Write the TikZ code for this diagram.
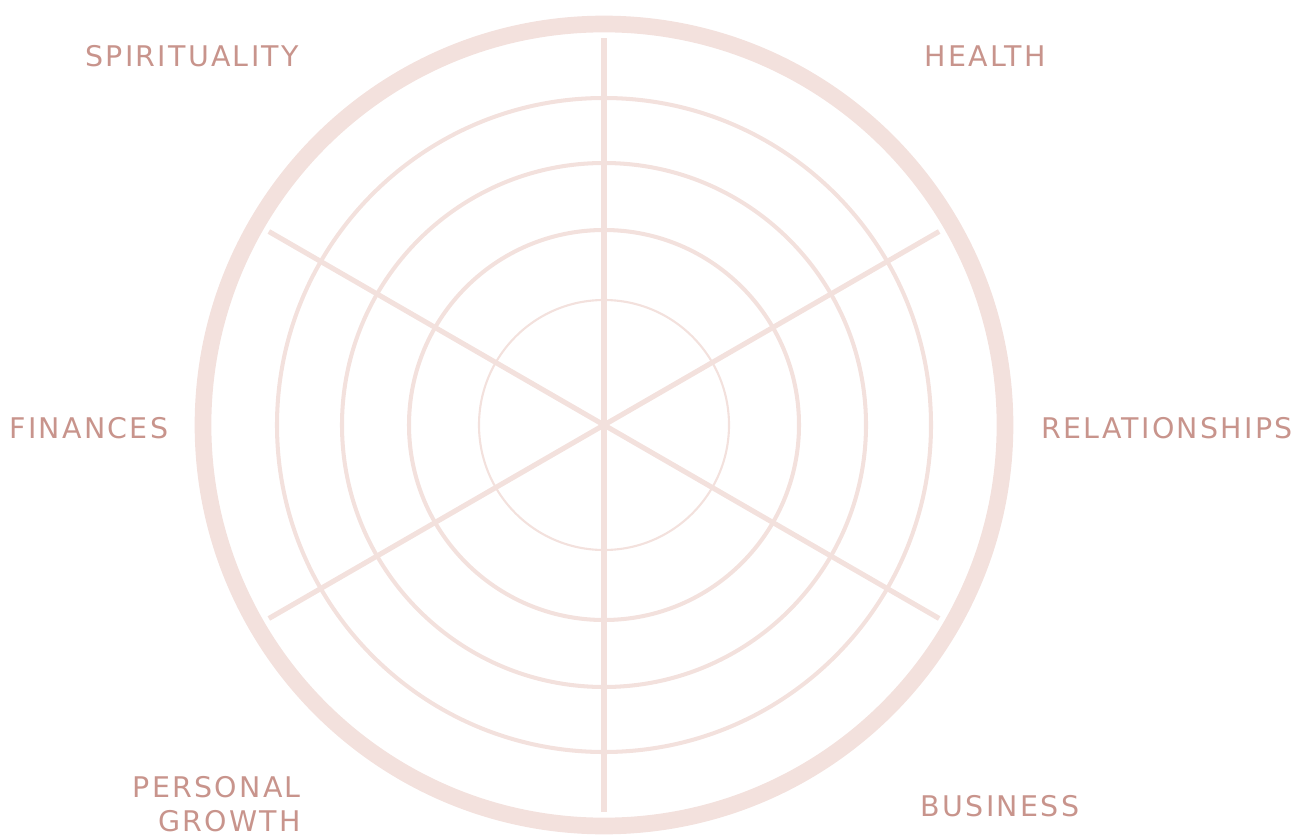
\documentclass[tikz,border=0pt]{standalone}
\usepackage{fontspec}
\usetikzlibrary{calc}
\setmainfont{DejaVu Sans}[LetterSpace=8]
\definecolor{wheelpink}{HTML}{F3E1DD}
\definecolor{labelrose}{HTML}{C8948C}
\begin{document}
\begin{tikzpicture}[x=0.02cm,y=-0.02cm,
    ring/.style={draw=wheelpink,line width=2.3pt},
    spoke/.style={draw=wheelpink,line width=2.9pt},
    area/.style={text=labelrose,font=\fontsize{16.2}{19.5}\selectfont,inner sep=0pt}]
    \useasboundingbox (0,0) rectangle (1312,838);
    \coordinate (c) at (604,425);
    % rings
    \draw[draw=wheelpink,line width=1.2pt] (c) circle (125);
    \foreach \r in {195,262,327}
      \draw[ring] (c) circle (\r);
    \draw[draw=wheelpink,line width=9.5pt] (c) circle (401);
    % spokes
    \foreach \a/\n in {30/he,90/to,150/sp,210/fi,270/bo,330/bu}
      \coordinate (\n) at ($(c)+(\a:387)$);
    \draw[spoke] (to) -- (bo);
    \draw[spoke] (sp) -- (bu);
    \draw[spoke] (he) -- (fi);
    % labels
    \node[area] (spirit) at (192,56) {SPIRITUALITY};
    \node[area] (health) at (985,56) {HEALTH};
    \node[area] (relat) at (1167,428) {RELATIONSHIPS};
    \node[area] (fin) at (89,428) {FINANCES};
    \node[area,align=right,anchor=east] (growth) at (301,804) {PERSONAL\\GROWTH};
    \node[area] (busi) at (1000,806) {BUSINESS};
\end{tikzpicture}
\end{document}
